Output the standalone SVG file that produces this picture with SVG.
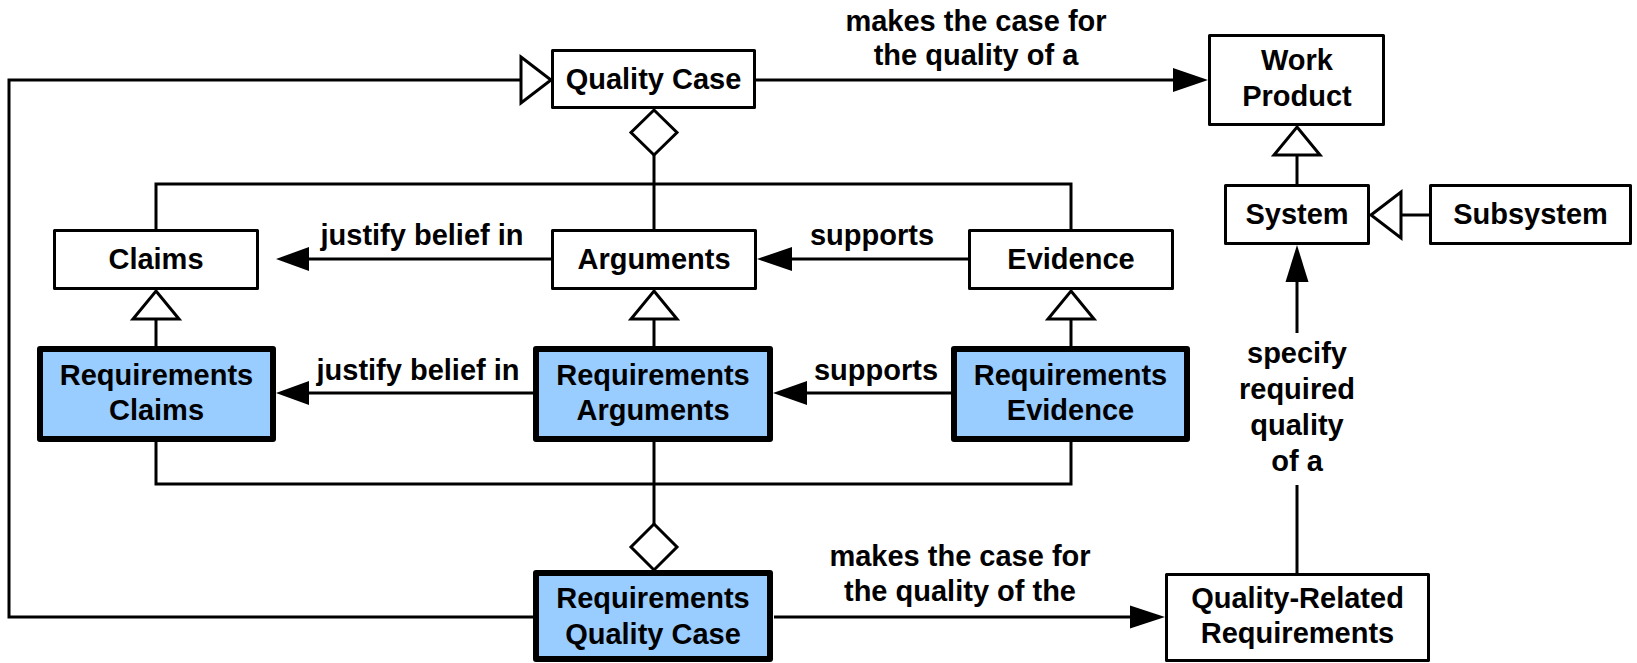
<svg xmlns="http://www.w3.org/2000/svg" width="1637" height="663" viewBox="0 0 1637 663">
<style>
  text { font-family: "Liberation Sans", Arial, Helvetica, sans-serif; font-weight: bold; font-size: 29px; fill: #000; text-anchor: middle; }
  .box { fill: #fff; stroke: #000; stroke-width: 3; stroke-linejoin: round; }
  .req { fill: #99CCFF; stroke: #000; stroke-width: 6; stroke-linejoin: round; }
  .ln { fill: none; stroke: #000; stroke-width: 3; stroke-linejoin: miter; }
  .hollow { fill: #fff; stroke: #000; stroke-width: 3; stroke-linejoin: miter; }
  .solid { fill: #000; stroke: none; }
</style>
<rect x="0" y="0" width="1637" height="663" fill="#fff"/>
<g id="connectors">
  <!-- Requirements Quality Case specializes Quality Case (left loop) -->
  <polyline class="ln" points="533,617 9,617 9,80 521,80"/>
  <polygon class="hollow" points="521,57 551,80 521,103"/>
  <!-- Quality Case -> Work Product -->
  <line class="ln" x1="756" y1="80" x2="1175" y2="80"/>
  <polygon class="solid" points="1173,68 1208,80 1173,92"/>
  <text x="976" y="31">makes the case for</text>
  <text x="976" y="65">the quality of a</text>
  <!-- Quality Case aggregation -->
  <polygon class="hollow" points="654,110 677,132.5 654,155 631,132.5"/>
  <line class="ln" x1="654" y1="155" x2="654" y2="229"/>
  <polyline class="ln" points="156,229 156,184 1071,184 1071,229"/>
  <!-- Arguments -> Claims -->
  <line class="ln" x1="551" y1="259" x2="307" y2="259"/>
  <polygon class="solid" points="309,247 276,259 309,271"/>
  <text x="422" y="245">justify belief in</text>
  <!-- Evidence -> Arguments -->
  <line class="ln" x1="968" y1="259" x2="790" y2="259"/>
  <polygon class="solid" points="792,247 757,259 792,271"/>
  <text x="872" y="245">supports</text>
  <!-- generalizations -->
  <line class="ln" x1="156" y1="319" x2="156" y2="346"/>
  <polygon class="hollow" points="156,291 179,319 133,319"/>
  <line class="ln" x1="654" y1="319" x2="654" y2="346"/>
  <polygon class="hollow" points="654,291 677,319 631,319"/>
  <line class="ln" x1="1071" y1="319" x2="1071" y2="346"/>
  <polygon class="hollow" points="1071,291 1094,319 1048,319"/>
  <!-- Requirements Arguments -> Requirements Claims -->
  <line class="ln" x1="533" y1="393" x2="307" y2="393"/>
  <polygon class="solid" points="309,381 276,393 309,405"/>
  <text x="418" y="380">justify belief in</text>
  <!-- Requirements Evidence -> Requirements Arguments -->
  <line class="ln" x1="951" y1="393" x2="805" y2="393"/>
  <polygon class="solid" points="807,381 773,393 807,405"/>
  <text x="876" y="380">supports</text>
  <!-- Requirements Quality Case aggregation -->
  <polyline class="ln" points="156,442 156,484 1071,484 1071,442"/>
  <line class="ln" x1="654" y1="442" x2="654" y2="524"/>
  <polygon class="hollow" points="654,524 677,547 654,570 631,547"/>
  <!-- Requirements Quality Case -> Quality-Related Requirements -->
  <line class="ln" x1="774" y1="617" x2="1132" y2="617"/>
  <polygon class="solid" points="1130,605.5 1165,617 1130,628.5"/>
  <text x="960" y="566">makes the case for</text>
  <text x="960" y="601">the quality of the</text>
  <!-- System specializes Work Product -->
  <line class="ln" x1="1297" y1="155" x2="1297" y2="184"/>
  <polygon class="hollow" points="1297,127 1320,155 1274,155"/>
  <!-- Subsystem specializes System -->
  <line class="ln" x1="1401" y1="215" x2="1429" y2="215"/>
  <polygon class="hollow" points="1371,215 1401,192 1401,238"/>
  <!-- Quality-Related Requirements -> System -->
  <line class="ln" x1="1297" y1="573" x2="1297" y2="485"/>
  <line class="ln" x1="1297" y1="333" x2="1297" y2="280"/>
  <polygon class="solid" points="1285.5,282 1297,245 1308.5,282"/>
  <text x="1297" y="363">specify</text>
  <text x="1297" y="399">required</text>
  <text x="1297" y="435">quality</text>
  <text x="1297" y="471">of a</text>
</g>
<g id="quality-case">
  <rect class="box" x="552.5" y="50.5" width="202" height="57"/>
  <text x="653.5" y="89">Quality Case</text>
</g>
<g id="work-product">
  <rect class="box" x="1209.5" y="35.5" width="174" height="89"/>
  <text x="1297" y="70">Work</text>
  <text x="1297" y="106">Product</text>
</g>
<g id="system">
  <rect class="box" x="1225.5" y="185.5" width="143" height="58"/>
  <text x="1297" y="224">System</text>
</g>
<g id="subsystem">
  <rect class="box" x="1430.5" y="185.5" width="200" height="58"/>
  <text x="1530.5" y="224">Subsystem</text>
</g>
<g id="claims">
  <rect class="box" x="54.5" y="230.5" width="203" height="58"/>
  <text x="156" y="269">Claims</text>
</g>
<g id="arguments">
  <rect class="box" x="552.5" y="230.5" width="203" height="58"/>
  <text x="654" y="269">Arguments</text>
</g>
<g id="evidence">
  <rect class="box" x="969.5" y="230.5" width="203" height="58"/>
  <text x="1071" y="269">Evidence</text>
</g>
<g id="requirements-claims">
  <rect class="req" x="40" y="349" width="233" height="90"/>
  <text x="156.5" y="385">Requirements</text>
  <text x="156.5" y="420">Claims</text>
</g>
<g id="requirements-arguments">
  <rect class="req" x="536" y="349" width="234" height="90"/>
  <text x="653" y="385">Requirements</text>
  <text x="653" y="420">Arguments</text>
</g>
<g id="requirements-evidence">
  <rect class="req" x="954" y="349" width="233" height="90"/>
  <text x="1070.5" y="385">Requirements</text>
  <text x="1070.5" y="420">Evidence</text>
</g>
<g id="requirements-quality-case">
  <rect class="req" x="536" y="573" width="234" height="86"/>
  <text x="653" y="608">Requirements</text>
  <text x="653" y="644">Quality Case</text>
</g>
<g id="quality-related-requirements">
  <rect class="box" x="1166.5" y="574.5" width="262" height="86"/>
  <text x="1297.5" y="608">Quality-Related</text>
  <text x="1297.5" y="643">Requirements</text>
</g>
</svg>
